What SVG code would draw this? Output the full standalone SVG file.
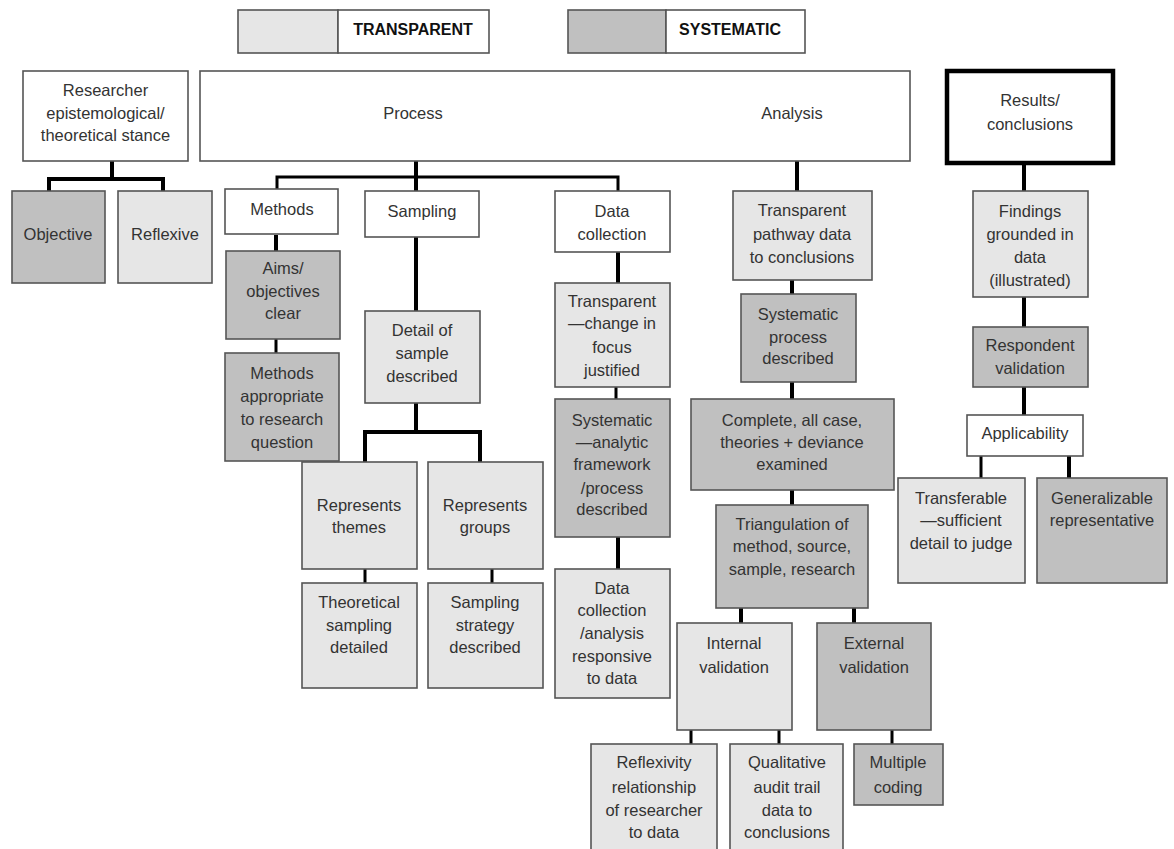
<svg xmlns="http://www.w3.org/2000/svg" width="1174" height="849" viewBox="0 0 1174 849">
<style>
  text { font-family: "Liberation Sans", Arial, sans-serif; font-size: 16.5px; fill: #333; text-anchor: middle; }
  .leg { font-weight: bold; font-size: 16px; fill: #111; }
  rect { stroke: #555; stroke-width: 1.6; }
  .bg { fill: #ffffff; stroke: none; }
  .w { fill: #ffffff; }
  .l { fill: #e6e6e6; }
  .d { fill: #c0c0c0; }
  .thick { fill: #ffffff; stroke: #000; stroke-width: 4.5; }
  .c { fill: none; stroke: #000; stroke-width: 4; }
  .ct { fill: none; stroke: #000; stroke-width: 3; }
</style>
<rect class="bg" x="0" y="0" width="1174" height="849"/>

<g id="connectors">
  <path class="c" d="M112,161 V179 M49,191 V179 H163 V191"/>
  <path class="c" d="M416,161 V311"/>
  <path class="ct" d="M277,189 V177 H618 V191"/>
  <path class="c" d="M797,161 V191"/>
  <path class="c" d="M1024,163 V191"/>
  <path class="c" d="M276,235 V251"/>
  <path class="ct" d="M276,339 V353"/>
  <path class="c" d="M416,403 V432 M365,462 V432 H480 V462"/>
  <path class="ct" d="M365,569 V583 M492,569 V583"/>
  <path class="c" d="M618,252 V283"/>
  <path class="ct" d="M616,387 V399"/>
  <path class="c" d="M618,537 V569"/>
  <path class="c" d="M792,280 V294 M792,382 V399 M792,490 V505"/>
  <path class="c" d="M741,608 V623 M854,608 V623"/>
  <path class="ct" d="M691,730 V744 M779,730 V744 M892,730 V744"/>
  <path class="c" d="M1024,297 V327 M1024,387 V415"/>
  <path class="ct" d="M981,456 V478"/>
  <path class="c" d="M1069,456 V478"/>
</g>

<g id="legend-transparent">
  <rect class="l" x="238" y="10" width="100" height="43"/>
  <rect class="w" x="338" y="10" width="151" height="43"/>
  <text class="leg" x="413" y="35">TRANSPARENT</text>
</g>
<g id="legend-systematic">
  <rect class="d" x="568" y="10" width="98" height="43"/>
  <rect class="w" x="666" y="10" width="139" height="43"/>
  <text class="leg" x="730" y="35">SYSTEMATIC</text>
</g>

<g id="researcher">
  <rect class="w" x="23" y="71" width="165" height="90"/>
  <text x="105.5" y="96">Researcher</text>
  <text x="105.5" y="119">epistemological/</text>
  <text x="105.5" y="141">theoretical stance</text>
</g>
<g id="process-analysis">
  <rect class="w" x="200" y="71" width="710" height="90"/>
  <text x="413" y="119">Process</text>
  <text x="792" y="119">Analysis</text>
</g>
<g id="results">
  <rect class="thick" x="947" y="71" width="166" height="92"/>
  <text x="1030" y="106">Results/</text>
  <text x="1030" y="130">conclusions</text>
</g>

<g id="objective">
  <rect class="d" x="12" y="191" width="93" height="92"/>
  <text x="58" y="240">Objective</text>
</g>
<g id="reflexive">
  <rect class="l" x="118" y="191" width="94" height="92"/>
  <text x="165" y="240">Reflexive</text>
</g>

<g id="methods">
  <rect class="w" x="225" y="189" width="113" height="45"/>
  <text x="282" y="215">Methods</text>
</g>
<g id="aims">
  <rect class="d" x="226" y="251" width="114" height="88"/>
  <text x="283" y="274">Aims/</text>
  <text x="283" y="297">objectives</text>
  <text x="283" y="319">clear</text>
</g>
<g id="methods-appropriate">
  <rect class="d" x="225" y="353" width="114" height="108"/>
  <text x="282" y="379">Methods</text>
  <text x="282" y="402">appropriate</text>
  <text x="282" y="425">to research</text>
  <text x="282" y="448">question</text>
</g>

<g id="sampling">
  <rect class="w" x="365" y="191" width="114" height="46"/>
  <text x="422" y="217">Sampling</text>
</g>
<g id="detail-sample">
  <rect class="l" x="365" y="311" width="115" height="92"/>
  <text x="422" y="336">Detail of</text>
  <text x="422" y="359">sample</text>
  <text x="422" y="382">described</text>
</g>
<g id="represents-themes">
  <rect class="l" x="302" y="462" width="115" height="107"/>
  <text x="359" y="511">Represents</text>
  <text x="359" y="533">themes</text>
</g>
<g id="represents-groups">
  <rect class="l" x="428" y="462" width="115" height="107"/>
  <text x="485" y="511">Represents</text>
  <text x="485" y="533">groups</text>
</g>
<g id="theoretical-sampling">
  <rect class="l" x="302" y="583" width="115" height="105"/>
  <text x="359" y="608">Theoretical</text>
  <text x="359" y="631">sampling</text>
  <text x="359" y="653">detailed</text>
</g>
<g id="sampling-strategy">
  <rect class="l" x="428" y="583" width="115" height="105"/>
  <text x="485" y="608">Sampling</text>
  <text x="485" y="631">strategy</text>
  <text x="485" y="653">described</text>
</g>

<g id="data-collection">
  <rect class="w" x="555" y="191" width="115" height="61"/>
  <text x="612" y="217">Data</text>
  <text x="612" y="240">collection</text>
</g>
<g id="transparent-change">
  <rect class="l" x="555" y="283" width="115" height="104"/>
  <text x="612" y="307">Transparent</text>
  <text x="612" y="329">—change in</text>
  <text x="612" y="353">focus</text>
  <text x="612" y="376">justified</text>
</g>
<g id="systematic-analytic">
  <rect class="d" x="555" y="399" width="115" height="138"/>
  <text x="612" y="426">Systematic</text>
  <text x="612" y="448">—analytic</text>
  <text x="612" y="470">framework</text>
  <text x="612" y="494">/process</text>
  <text x="612" y="515">described</text>
</g>
<g id="data-responsive">
  <rect class="l" x="555" y="569" width="115" height="129"/>
  <text x="612" y="594">Data</text>
  <text x="612" y="616">collection</text>
  <text x="612" y="639">/analysis</text>
  <text x="612" y="662">responsive</text>
  <text x="612" y="684">to data</text>
</g>

<g id="transparent-pathway">
  <rect class="l" x="733" y="191" width="139" height="89"/>
  <text x="802" y="216">Transparent</text>
  <text x="802" y="240">pathway data</text>
  <text x="802" y="263">to conclusions</text>
</g>
<g id="systematic-process">
  <rect class="d" x="741" y="294" width="115" height="88"/>
  <text x="798" y="320">Systematic</text>
  <text x="798" y="343">process</text>
  <text x="798" y="364">described</text>
</g>
<g id="complete">
  <rect class="d" x="691" y="399" width="203" height="91"/>
  <text x="792" y="426">Complete, all case,</text>
  <text x="792" y="448">theories + deviance</text>
  <text x="792" y="470">examined</text>
</g>
<g id="triangulation">
  <rect class="d" x="716" y="505" width="152" height="103"/>
  <text x="792" y="530">Triangulation of</text>
  <text x="792" y="552">method, source,</text>
  <text x="792" y="575">sample, research</text>
</g>
<g id="internal-validation">
  <rect class="l" x="677" y="623" width="115" height="107"/>
  <text x="734" y="649">Internal</text>
  <text x="734" y="673">validation</text>
</g>
<g id="external-validation">
  <rect class="d" x="817" y="623" width="114" height="107"/>
  <text x="874" y="649">External</text>
  <text x="874" y="673">validation</text>
</g>
<g id="reflexivity">
  <rect class="l" x="591" y="744" width="126" height="110"/>
  <text x="654" y="768">Reflexivity</text>
  <text x="654" y="793">relationship</text>
  <text x="654" y="816">of researcher</text>
  <text x="654" y="838">to data</text>
</g>
<g id="audit-trail">
  <rect class="l" x="730" y="744" width="113" height="110"/>
  <text x="787" y="768">Qualitative</text>
  <text x="787" y="793">audit trail</text>
  <text x="787" y="816">data to</text>
  <text x="787" y="838">conclusions</text>
</g>
<g id="multiple-coding">
  <rect class="d" x="854" y="744" width="89" height="61"/>
  <text x="898" y="768">Multiple</text>
  <text x="898" y="793">coding</text>
</g>

<g id="findings">
  <rect class="l" x="973" y="191" width="115" height="106"/>
  <text x="1030" y="217">Findings</text>
  <text x="1030" y="240">grounded in</text>
  <text x="1030" y="263">data</text>
  <text x="1030" y="286">(illustrated)</text>
</g>
<g id="respondent-validation">
  <rect class="d" x="973" y="327" width="115" height="60"/>
  <text x="1030" y="351">Respondent</text>
  <text x="1030" y="374">validation</text>
</g>
<g id="applicability">
  <rect class="w" x="967" y="415" width="116" height="41"/>
  <text x="1025" y="439">Applicability</text>
</g>
<g id="transferable">
  <rect class="l" x="898" y="478" width="127" height="105"/>
  <text x="961" y="504">Transferable</text>
  <text x="961" y="526">—sufficient</text>
  <text x="961" y="549">detail to judge</text>
</g>
<g id="generalizable">
  <rect class="d" x="1037" y="478" width="130" height="105"/>
  <text x="1102" y="504">Generalizable</text>
  <text x="1102" y="526">representative</text>
</g>
</svg>
